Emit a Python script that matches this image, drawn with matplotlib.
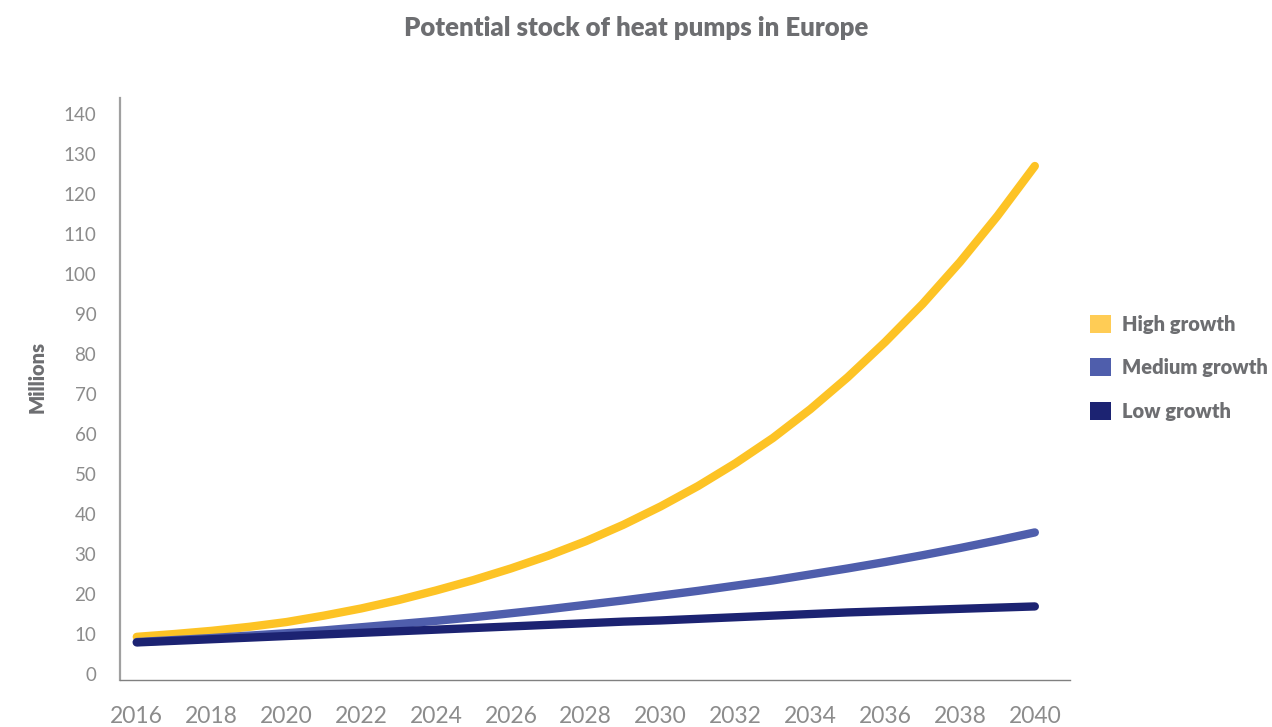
import matplotlib.pyplot as plt
from matplotlib.patches import Patch

years = list(range(2016, 2041))
high_growth = [9.3, 10.0, 10.8, 11.8, 13.0, 14.6, 16.4, 18.5, 20.9, 23.5, 26.4, 29.6, 33.2,
               37.3, 41.9, 47.0, 52.7, 59.0, 66.2, 74.2, 83.0, 92.5, 103.0, 114.5, 127.0]
medium_growth = [8.0, 8.5, 9.0, 9.6, 10.2, 10.9, 11.7, 12.5, 13.3, 14.2, 15.2, 16.2, 17.3,
                 18.4, 19.6, 20.8, 22.1, 23.4, 24.9, 26.4, 28.0, 29.7, 31.5, 33.4, 35.4]
low_growth = [7.9, 8.3, 8.7, 9.1, 9.5, 9.9, 10.3, 10.7, 11.1, 11.5, 11.9, 12.3, 12.7,
              13.1, 13.4, 13.8, 14.2, 14.6, 15.0, 15.4, 15.7, 16.0, 16.3, 16.6, 16.9]
labels = ['High growth', 'Medium growth', 'Low growth']
x_ticks = list(range(2016, 2041, 2))
y_ticks = list(range(0, 141, 10))

line_colors = ['#FDC325', '#4F5EAC', '#1C2372']
swatch_colors = ['#FFCC55', '#4F5EAC', '#1C2372']
grey = '#6D6E71'
tick_grey = '#8C8C8C'

plt.rcParams['font.family'] = ['Lato', 'DejaVu Sans']

fig = plt.figure(figsize=(12.72, 7.27), dpi=100)
ax = fig.add_axes([0.0943, 0.0646, 0.7469, 0.8006])

for series, color in zip([high_growth, medium_growth, low_growth], line_colors):
    ax.plot(years, series, color=color, linewidth=6, solid_capstyle='round', solid_joinstyle='round')

ax.set_xlim(2015.55, 2040.94)
ax.set_ylim(-1.5, 144)
ax.set_xticks(x_ticks)
ax.set_yticks(y_ticks)
ax.tick_params(axis='x', length=0, pad=19, labelsize=16.5, labelcolor=tick_grey)
ax.tick_params(axis='y', length=0, pad=17, labelsize=13.5, labelcolor=tick_grey)

for side in ['top', 'right']:
    ax.spines[side].set_visible(False)
ax.spines['left'].set_color('#A0A0A0')
ax.spines['left'].set_linewidth(1.6)
ax.spines['bottom'].set_color('#808080')
ax.spines['bottom'].set_linewidth(1.0)

fig.text(0.5, 0.962, 'Potential stock of heat pumps in Europe', ha='center', va='center',
         fontsize=18.5, fontweight='heavy', color=grey)
fig.text(0.029, 0.481, 'Millions', rotation=90, ha='center', va='center',
         fontsize=14.5, fontweight='heavy', color=grey)

handles = [Patch(facecolor=c, edgecolor='none') for c in swatch_colors]
leg = fig.legend(handles, labels, loc='center left', bbox_to_anchor=(0.843, 0.494),
                 frameon=False, handlelength=1.0, handleheight=1.0, handletextpad=0.55,
                 labelspacing=1.2, fontsize=14.5)
for t in leg.get_texts():
    t.set_color(grey)
    t.set_fontweight('heavy')

fig.savefig('out.png', dpi=100)
